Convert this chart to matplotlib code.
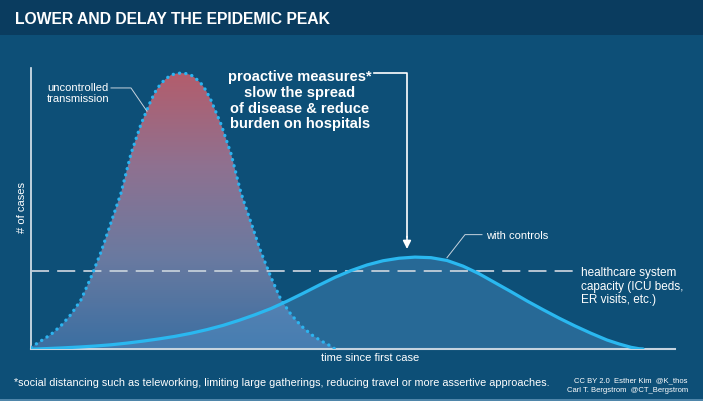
import numpy as np
import matplotlib
matplotlib.use("Agg")
import matplotlib.pyplot as plt
from matplotlib.colors import LinearSegmentedColormap
from matplotlib.patches import Rectangle, Polygon

plt.rcParams['font.family'] = ['Liberation Sans', 'DejaVu Sans']

# uncontrolled transmission (days since first case, cases in % of axis)
days_unc = [0, 2.5, 5, 7.5, 10, 12.5, 15, 17.5, 20, 22.5, 25, 27.5, 30, 31.25, 32.5, 33.75, 35, 36.25, 37.5,
            38.75, 40, 41.25, 42.5, 43.75, 45, 47.5, 50, 52.5, 55, 57.5, 60, 62.5, 65, 67.5, 70, 72.5, 75, 76]
cases_unc = [0.6, 2.9, 5.2, 8.3, 12.3, 17.5, 25.5, 34.5, 45.0, 55.5, 69.5, 80.0, 88.5, 92.0, 94.5, 96.2, 97.5, 98.0, 98.2,
             98.0, 97.5, 96.2, 94.5, 92.0, 88.5, 80.0, 69.5, 55.5, 45.0, 34.5, 25.5, 17.5, 12.3, 8.3, 5.2, 2.9, 1.0, 0.0]

# with controls
days_ctl = [0, 4, 8, 12, 16, 20, 24, 28, 32, 36, 40, 44, 48, 52, 56, 60, 64, 68, 72, 76, 80, 84, 88,
            92, 96, 100, 104, 108, 112, 116, 120, 124, 128, 132, 136, 140, 144, 147, 150, 152, 153]
cases_ctl = [0, 0.15, 0.4, 0.7, 1.05, 1.5, 2.1, 2.8, 3.6, 4.5, 5.6, 6.9, 8.4, 10.2, 12.2, 14.4, 17.0, 19.8, 22.7, 25.5, 27.9, 29.9, 31.4,
             32.3, 32.7, 32.5, 31.5, 29.5, 26.8, 23.6, 20.4, 17.1, 14.0, 11.0, 8.2, 5.6, 3.2, 1.8, 0.6, 0.1, 0]

capacity = 27.9
capacity_end = 136

bg = '#0d4f77'
cyan = '#2ab8f0'

fig = plt.figure(figsize=(7.03, 4.02), dpi=100, facecolor=bg)

# title bar
fig.patches.append(Rectangle((0, 1 - 36 / 402), 1, 36 / 402, transform=fig.transFigure,
                             facecolor='#0a3c5f', edgecolor='none', zorder=0))
fig.patches.append(Rectangle((0, 0), 1, 2 / 402, transform=fig.transFigure,
                             facecolor='#4f86aa', edgecolor='none', zorder=0))
fig.text(15 / 703, 1 - 19 / 402, 'LOWER AND DELAY THE EPIDEMIC PEAK', color='white',
         fontsize=11.3, fontweight='bold', va='center', ha='left')

ax = fig.add_axes([31 / 703, 52 / 402, 644 / 703, 281 / 402])
ax.set_facecolor('none')
ax.set_xlim(0, 161)
ax.set_ylim(0, 100)
for s in ['top', 'right']:
    ax.spines[s].set_visible(False)
ax.spines['left'].set_color('#dfe8f0')
ax.spines['bottom'].set_color('#c5d3df')
ax.spines['left'].set_linewidth(1.2)
ax.spines['bottom'].set_linewidth(1.5)
ax.set_xticks([])
ax.set_yticks([])

# gradient fill under the uncontrolled curve
cmap = LinearSegmentedColormap.from_list('peak', ['#3b6fa2', '#6a7aa0', '#8f7190', '#b35d6c'])
grad = np.linspace(0, 1, 256).reshape(-1, 1)
img = ax.imshow(grad, extent=[0, 77, 0, 98.2], origin='lower', cmap=cmap, aspect='auto', zorder=1)
poly = Polygon(np.column_stack([days_unc, cases_unc]), closed=True, transform=ax.transData,
               facecolor='none', edgecolor='none')
ax.add_patch(poly)
img.set_clip_path(poly)

# with controls fill
ax.fill_between(days_ctl, cases_ctl, 0, color='#5a9ad0', alpha=0.35, lw=0, zorder=2)

# capacity line
ax.plot([0, capacity_end], [capacity, capacity], color='#c3ced9', lw=1.3,
        dashes=(10, 4.5), zorder=3)

# dotted uncontrolled curve, solid controlled curve
ax.plot(days_unc, cases_unc, color='#2cb4f0', lw=2.4, linestyle=(0, (0.05, 1.85)),
        dash_capstyle='round', solid_joinstyle='round', zorder=4)
ax.plot(days_ctl, cases_ctl, color=cyan, lw=2.3, solid_capstyle='round',
        solid_joinstyle='round', zorder=5)

# annotations
ax.plot([20, 25, 29], [92.9, 92.9, 84.6], color='#c8d4df', lw=0.7, zorder=6, clip_on=False)
ax.text(19.5, 91.2, 'uncontrolled\ntransmission', color='white', fontsize=8, ha='right',
        va='center', linespacing=1.15)

ax.plot([104, 108.5, 112.75], [32.5, 40.7, 40.7], color='#c8d4df', lw=0.7, zorder=6)
ax.text(113.75, 40.5, 'with controls', color='white', fontsize=8, ha='left', va='center')

ax.text(137.5, 22.5, 'healthcare system\ncapacity (ICU beds,\nER visits, etc.)', color='white',
        fontsize=8.5, ha='left', va='center', linespacing=1.15, clip_on=False)

ax.plot([85.75, 94, 94], [98.2, 98.2, 40], color='white', lw=1.2, zorder=6, clip_on=False)
ax.annotate('', xy=(94, 34.6), xytext=(94, 41),
            arrowprops=dict(arrowstyle='-|>', color='white', lw=1.2, mutation_scale=12))
ax.text(67.25, 88.7, 'proactive measures*\nslow the spread\nof disease & reduce\nburden on hospitals',
        color='white', fontsize=10.5, fontweight='bold', ha='center', va='center',
        linespacing=1.16, clip_on=False)

fig.text(22 / 703, 1 - 208 / 402, '# of cases', color='white', fontsize=8, rotation=90,
         ha='center', va='center')
fig.text(370 / 703, 1 - 358 / 402, 'time since first case', color='white', fontsize=8,
         ha='center', va='center')
fig.text(14 / 703, 1 - 383 / 402,
         '*social distancing such as teleworking, limiting large gatherings, reducing travel or more assertive approaches.',
         color='white', fontsize=7.85, ha='left', va='center')
fig.text(688 / 703, 1 - 381 / 402, 'CC BY 2.0  Esther Kim  @K_thos', color='white', fontsize=5.5,
         ha='right', va='center')
fig.text(688 / 703, 1 - 391 / 402, 'Carl T. Bergstrom  @CT_Bergstrom', color='white', fontsize=5.5,
         ha='right', va='center')

fig.savefig('out.png', dpi=100, facecolor=bg)
